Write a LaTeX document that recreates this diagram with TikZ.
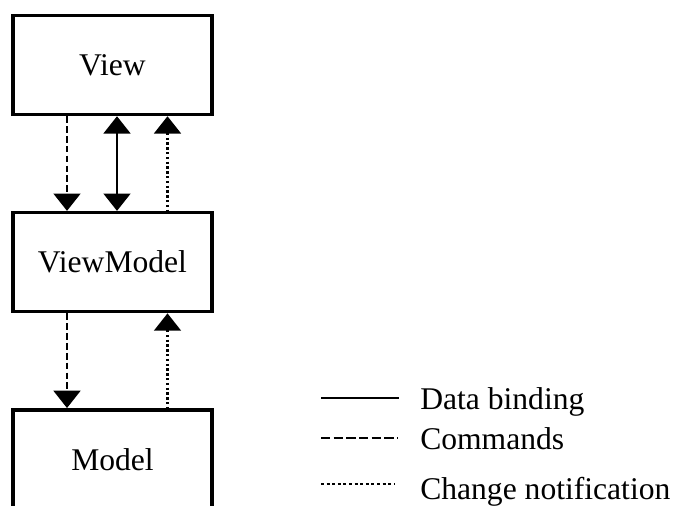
\documentclass[tikz,border=0pt]{standalone}
\usepackage{fontspec}
\setmainfont{Liberation Serif}
\usetikzlibrary{positioning, arrows.meta}
\newcommand{\cmdarrow}{-{Triangle[length=13pt,width=20pt]}}
\newcommand{\notearrow}{{Triangle[length=13pt,width=20pt]}-}
\newcommand{\bindarrow}{{Triangle[length=13pt,width=20pt]}-{Triangle[length=13pt,width=20pt]}}

\begin{document}
\begin{tikzpicture}[x=0.75pt, y=-0.75pt,
    every node/.style={font=\fontsize{23.7}{29}\selectfont},
    box/.style={shape=rectangle, draw, line width=2.6pt, minimum width=149.25pt, minimum height=74.25pt},
    bind/.style={line width=2.1pt},
    cmd/.style={line width=2.1pt, dash pattern=on 5pt off 2.4pt},
    note/.style={line width=2.1pt, dash pattern=on 1.8pt off 1.8pt}]
        \clip (0,0) rectangle (682,506);
        \node[box] (view) at (112.5,65) { View };
        \node[box, below=71pt of view] (vm) { ViewModel };
        \node[box, below=71pt of vm] (model) { Model };
        \coordinate (cmdx) at (67,0);
        \coordinate (bindx) at (117,0);
        \coordinate (notex) at (167.5,0);
        \draw[cmd, \cmdarrow] (view.south -| cmdx) -- (vm.north -| cmdx);
        \draw[bind, \bindarrow] (view.south -| bindx) -- (vm.north -| bindx);
        \draw[note, \notearrow] (view.south -| notex) -- (vm.north -| notex);
        \draw[cmd, \cmdarrow] (vm.south -| cmdx) -- (model.north -| cmdx);
        \draw[note, \notearrow] (vm.south -| notex) -- (model.north -| notex);
        % legend
        \node[anchor=base west, inner sep=0] (bindtxt) at (420,409) {Data binding};
        \node[anchor=base west, inner sep=0] (cmdtxt) at (420,449) {Commands};
        \node[anchor=base west, inner sep=0] (notetxt) at (420,499) {Change notification};
        \draw[bind] (321,398) -- (399,398);
        \draw[cmd, dash pattern=on 7pt off 2.5pt] (321,438) -- (398,438);
        \draw[note, dash pattern=on 2.2pt off 2pt] (321,484) -- (395,484);
    \end{tikzpicture}
\end{document}
